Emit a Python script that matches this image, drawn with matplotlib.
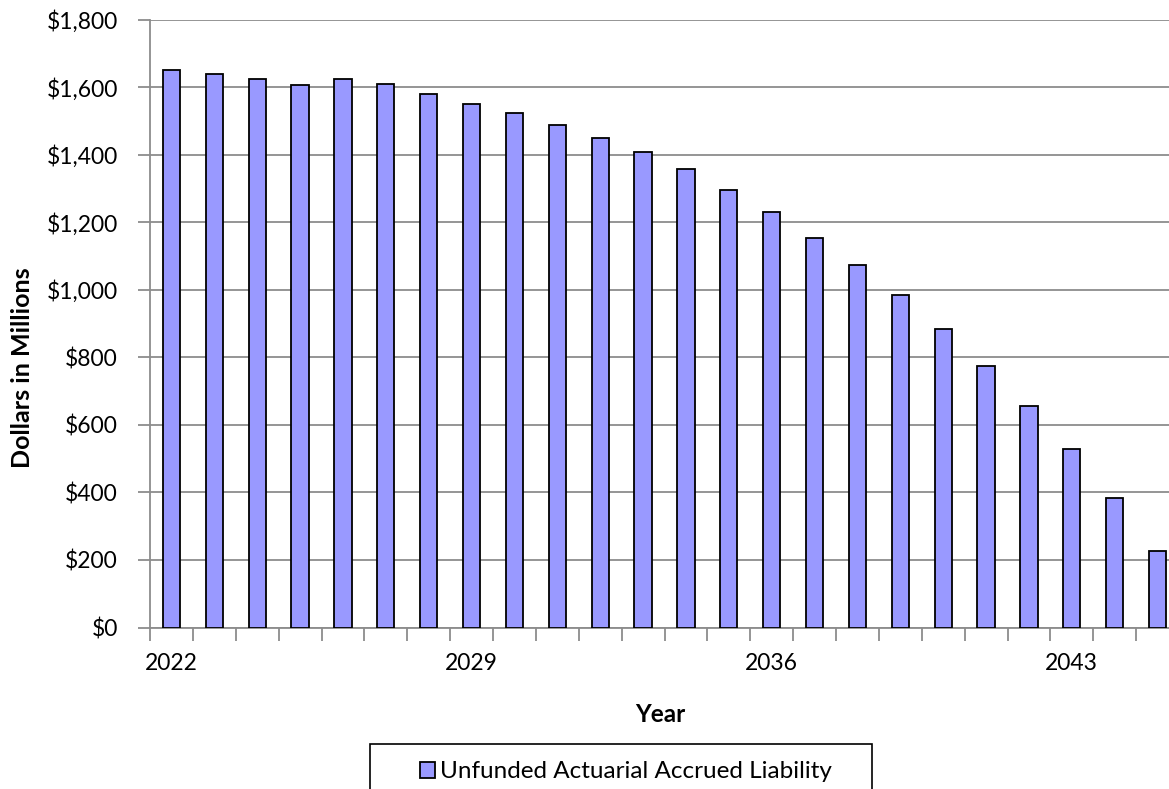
import matplotlib
matplotlib.use("Agg")
import matplotlib.pyplot as plt
from matplotlib.patches import Rectangle
from matplotlib.ticker import FuncFormatter, FixedLocator

plt.rcParams['font.family'] = ['Lato', 'DejaVu Sans']

years = list(range(2022, 2046))
liability = [1650, 1640, 1625, 1607, 1625, 1608, 1579, 1550, 1522, 1488, 1450, 1408,
             1357, 1294, 1230, 1153, 1072, 983, 883, 774, 657, 529, 382, 226]
series_label = "Unfunded Actuarial Accrued Liability"
label_years = [2022, 2029, 2036, 2043]

W, H = 1169, 789
fig = plt.figure(figsize=(W / 100, H / 100), dpi=100)
left, right, top, bottom = 150, 1179, 19.5, 627.5
ax = fig.add_axes([left / W, 1 - bottom / H, (right - left) / W, (bottom - top) / H])

x = list(range(len(years)))
bars = ax.bar(x, liability, width=0.4, color='#9999FF', edgecolor='black',
              linewidth=1.3, label=series_label, zorder=3)

ax.set_xlim(-0.5, len(years) - 0.5)
ax.set_ylim(0, 1800)
ax.set_yticks(range(0, 1801, 200))
ax.yaxis.set_major_formatter(FuncFormatter(lambda v, p: f"${v:,.0f}"))

grid_c = '#8c8c8c'
ax.grid(axis='y', color=grid_c, linewidth=1.3, zorder=0)
for s in ['top', 'right']:
    ax.spines[s].set_visible(False)
for s in ['left', 'bottom']:
    ax.spines[s].set_color(grid_c)
    ax.spines[s].set_linewidth(1.3)

# minor ticks at category boundaries, labels at selected years
ax.xaxis.set_major_locator(FixedLocator([years.index(y) for y in label_years]))
ax.set_xticklabels([str(y) for y in label_years])
ax.xaxis.set_minor_locator(FixedLocator([i - 0.5 for i in range(len(years) + 1)]))
ax.tick_params(axis='x', which='major', length=0, labelsize=16.5, pad=18, colors='black')
ax.tick_params(axis='x', which='minor', length=9, width=1.3, color=grid_c)
ax.tick_params(axis='y', length=9, width=1.3, color=grid_c, labelsize=16.5, pad=14,
               labelcolor='black')

fig.text(660 / W, 1 - 715 / H, "Year", ha='center', va='center', fontsize=17.5, fontweight='bold')
fig.text(23 / W, 1 - 368 / H, "Dollars in Millions", ha='center', va='center',
         rotation=90, fontsize=18, fontweight='bold')

fig.patches.append(Rectangle((369.5 / W, 1 - 800 / H), (872 - 369.5) / W, (800 - 744) / H,
                             transform=fig.transFigure, fill=False, edgecolor='black',
                             linewidth=1.2))
fig.legend(handles=[bars], labels=[series_label], loc='center',
           bbox_to_anchor=(626 / W, 1 - 772 / H), frameon=False, fontsize=17.5,
           handlelength=0.6, handleheight=0.6, handletextpad=0.2, borderpad=0)

fig.savefig("out.png", dpi=100)
